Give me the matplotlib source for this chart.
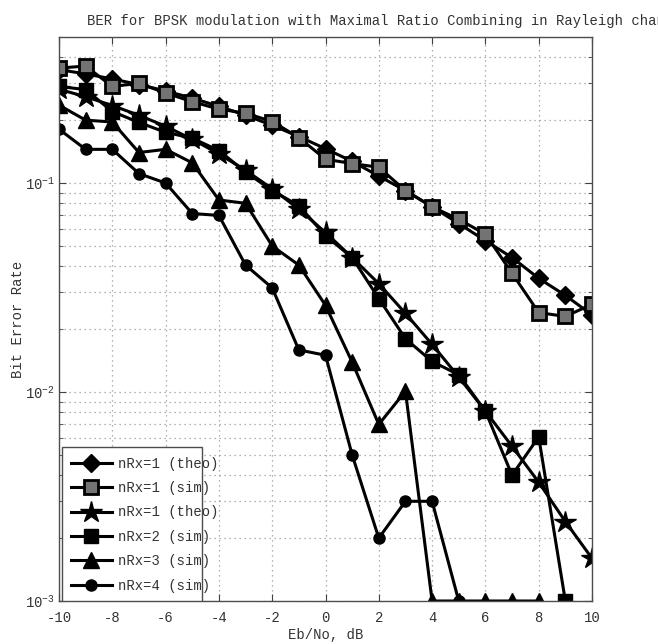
import matplotlib
matplotlib.use('Agg')
import matplotlib.pyplot as plt
from matplotlib.patches import Rectangle
from matplotlib.ticker import LogLocator, NullFormatter

matplotlib.rcParams['font.family'] = ['Liberation Mono', 'DejaVu Sans Mono']
matplotlib.rcParams['font.size'] = 10
matplotlib.rcParams['axes.unicode_minus'] = False
matplotlib.rcParams['mathtext.fontset'] = 'custom'
matplotlib.rcParams['mathtext.rm'] = 'Liberation Mono'
matplotlib.rcParams['mathtext.it'] = 'Liberation Mono'

# Eb/No in dB
ebno_db = list(range(-10, 11))

# nRx=1 theory (diamond)
ber_theo_1 = [0.349, 0.333, 0.315, 0.296, 0.276, 0.255, 0.233, 0.211, 0.189, 0.167,
              0.146, 0.127, 0.108, 0.092, 0.077, 0.064, 0.053, 0.044, 0.035, 0.029, 0.0234]
# nRx=1 simulation (square, grey face)
ber_sim_1 = [0.355, 0.363, 0.290, 0.300, 0.270, 0.245, 0.226, 0.216, 0.197, 0.165,
             0.130, 0.124, 0.119, 0.092, 0.077, 0.067, 0.057, 0.037, 0.024, 0.023, 0.0263]
# second theory curve (pentagram)
ber_theo_2 = [0.281, 0.259, 0.235, 0.211, 0.187, 0.162, 0.138, 0.115, 0.094, 0.075,
              0.058, 0.044, 0.033, 0.0238, 0.0169, 0.0118, 0.0081, 0.0055, 0.0037, 0.0024, 0.0016]
# nRx=2 simulation (filled square), ends at 9 dB
ber_sim_2 = [0.290, 0.280, 0.220, 0.195, 0.175, 0.164, 0.143, 0.113, 0.092, 0.078,
             0.056, 0.044, 0.028, 0.018, 0.014, 0.0121, 0.0081, 0.0040, 0.0061, 0.0010]
# nRx=3 simulation (triangle), ends at 8 dB
ber_sim_3 = [0.236, 0.200, 0.196, 0.140, 0.145, 0.125, 0.083, 0.080, 0.050, 0.0405,
             0.026, 0.0139, 0.0070, 0.0101, 0.0010, 0.0010, 0.0010, 0.0010, 0.0010]
# nRx=4 simulation (circle), ends at 5 dB
ber_sim_4 = [0.181, 0.145, 0.145, 0.111, 0.100, 0.0715, 0.070, 0.0405, 0.0315, 0.0159,
             0.0150, 0.0050, 0.0020, 0.0030, 0.0030, 0.0010]

labels = ['nRx=1 (theo)', 'nRx=1 (sim)', 'nRx=1 (theo)', 'nRx=2 (sim)', 'nRx=3 (sim)', 'nRx=4 (sim)']

fig = plt.figure(figsize=(6.58, 6.44), dpi=100, facecolor='white')
ax = fig.add_axes([59 / 658, 1 - 601 / 644, 533 / 658, 564 / 644])

lw = 2.2
ax.semilogy(ebno_db, ber_theo_1, color='black', lw=lw, marker='D', ms=9, mfc='black', mec='black', label=labels[0])
ax.semilogy(ebno_db, ber_sim_1, color='black', lw=lw, marker='s', ms=10, mfc='0.45', mec='black', mew=2, label=labels[1])
ax.semilogy(ebno_db, ber_theo_2, color='black', lw=lw, marker='*', ms=16, mfc='black', mec='black', label=labels[2])
ax.semilogy(ebno_db[:len(ber_sim_2)], ber_sim_2, color='black', lw=lw, marker='s', ms=10, mfc='black', mec='black', label=labels[3])
ax.semilogy(ebno_db[:len(ber_sim_3)], ber_sim_3, color='black', lw=lw, marker='^', ms=12, mfc='black', mec='black', label=labels[4])
ax.semilogy(ebno_db[:len(ber_sim_4)], ber_sim_4, color='black', lw=lw, marker='o', ms=8, mfc='black', mec='black', label=labels[5])

ax.set_xlim(-10, 10)
ax.set_ylim(1e-3, 0.5)
ax.set_xticks(range(-10, 11, 2))
ax.yaxis.set_major_locator(LogLocator(base=10, numticks=10))
ax.yaxis.set_minor_locator(LogLocator(base=10, subs=range(2, 10), numticks=20))
ax.yaxis.set_minor_formatter(NullFormatter())

# MATLAB style box with inward ticks
ax.tick_params(which='both', direction='in', top=True, right=True, colors='0.25', labelcolor='0.2')
ax.tick_params(which='major', length=5, width=0.8, labelsize=10)
ax.tick_params(which='minor', length=3, width=0.6)
ax.tick_params(axis='x', pad=7)
ax.tick_params(axis='y', pad=3)
for sp in ax.spines.values():
    sp.set_color('0.3')
    sp.set_linewidth(1.0)

# dotted grid
ax.grid(True, which='major', color='0.6', linestyle=(0, (1, 3)), linewidth=0.9)
ax.grid(True, which='minor', axis='y', color='0.6', linestyle=(0, (1, 3)), linewidth=0.9)

ax.set_xlabel('Eb/No, dB', color='0.2', labelpad=2)
ax.set_ylabel('Bit Error Rate', color='0.2', labelpad=0)
fig.text(87 / 658, 1 - 21 / 644, 'BER for BPSK modulation with Maximal Ratio Combining in Rayleigh channel',
         ha='left', va='center', fontsize=10, color='0.2')

# legend box is narrower than its texts, as in the original
box = Rectangle((0.0064, 0.0), 0.261, 0.273, transform=ax.transAxes, facecolor='white',
                edgecolor='0.3', linewidth=1.0, zorder=4)
ax.add_patch(box)
leg = ax.legend(loc='lower left', bbox_to_anchor=(0.006, 0.0), borderaxespad=0, frameon=False,
                handlelength=3.0, handletextpad=0.4, labelspacing=0.75, borderpad=0.6, fontsize=10)
leg.set_zorder(5)
for t in leg.get_texts():
    t.set_color('0.2')

fig.savefig('out.png', dpi=100)
